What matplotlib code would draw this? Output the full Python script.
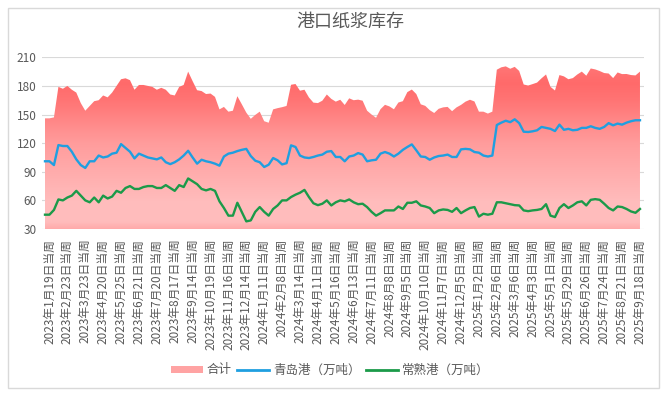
import numpy as np
import matplotlib
matplotlib.use("Agg")
import matplotlib.pyplot as plt
from matplotlib.patches import Polygon, Rectangle, Patch
from matplotlib.lines import Line2D
from matplotlib.colors import LinearSegmentedColormap

plt.rcParams['font.family'] = ['Noto Sans CJK SC', 'DejaVu Sans']

# weekly port pulp stocks (10k t)
qingdao = [101, 101, 97, 118, 117, 117, 111, 103, 97, 94,
           101, 101, 107, 105, 106, 109, 110, 119, 115, 111,
           104, 109, 107, 105, 104, 103, 105, 100, 98, 100,
           103, 107, 112, 105, 98.5, 102.6, 101, 100, 98.5, 96.4,
           106, 109, 110, 111.7, 113, 114, 106.5, 101.6, 100, 95,
           97.4, 104.4, 102, 97.7, 99, 117.7, 116, 107, 105, 104.4,
           105.5, 107, 108, 111, 111.7, 105.5, 105.5, 101, 106, 107,
           109.6, 108, 101, 102, 102.6, 109, 110.7, 109, 106, 109,
           113, 116, 118.7, 112.5, 106, 105.5, 102.6, 105, 106.5, 107,
           108, 105.5, 105.5, 113.5, 114, 113.5, 110.7, 110, 107, 106,
           107, 139, 141.5, 143.5, 142, 145, 141, 132, 131.7, 132.4,
           133.5, 137, 136, 135, 132.7, 139.4, 134, 135, 133.5, 134,
           136, 136, 137.7, 136, 135, 137, 141, 138.7, 140.5, 139.4,
           141.5, 143, 144, 144]
changshu = [45, 45, 50, 61, 60, 63, 65, 70, 65, 60,
            58, 63, 58, 65, 62, 64, 70, 68, 73, 75,
            72, 72, 74, 75, 75, 73, 73, 76, 73, 70,
            76, 74, 83, 80, 77, 72, 70.5, 72, 70, 59,
            52, 44, 44, 57.5, 47.7, 38, 39, 48, 53, 48,
            44, 51, 54.7, 60, 60, 63.5, 66, 68, 71, 63.5,
            57, 55, 56.5, 60, 54.7, 58, 60, 59, 61, 58,
            56, 56.5, 53, 48, 44, 46.6, 49.5, 49.5, 49.5, 53.6,
            51, 57.5, 57.5, 59, 54.7, 53.6, 52, 46.6, 49.5, 50.5,
            50, 48, 52, 46.6, 49.5, 52, 53, 43, 46, 45,
            46, 58, 58, 57, 56, 55, 54.7, 49.5, 48.7, 49.5,
            50, 51, 56, 44, 42.5, 52, 56, 52, 54.7, 58,
            59, 54.7, 60.6, 61.3, 60.6, 56.5, 52, 49.5, 53.6, 53,
            51, 48.4, 47, 51]
# every 4th week label shown on the category axis
week_labels = ["2023年1月19日当周", "2023年2月23日当周", "2023年3月23日当周", "2023年4月20日当周",
               "2023年5月25日当周", "2023年6月21日当周", "2023年7月20日当周", "2023年8月17日当周",
               "2023年9月14日当周", "2023年10月19日当周", "2023年11月16日当周", "2023年12月14日当周",
               "2024年1月11日当周", "2024年2月8日当周", "2024年3月14日当周", "2024年4月11日当周",
               "2024年5月16日当周", "2024年6月13日当周", "2024年7月11日当周", "2024年8月8日当周",
               "2024年9月5日当周", "2024年10月10日当周", "2024年11月7日当周", "2024年12月5日当周",
               "2025年1月2日当周", "2025年2月6日当周", "2025年3月6日当周", "2025年4月3日当周",
               "2025年5月1日当周", "2025年5月29日当周", "2025年6月26日当周", "2025年7月24日当周",
               "2025年8月21日当周", "2025年9月18日当周"]

qingdao = np.array(qingdao)
changshu = np.array(changshu)
total = qingdao + changshu  # 合计 = 青岛 + 常熟
x = np.arange(len(qingdao))

TXT = "#595959"
GRID = "#d9d9d9"

fig = plt.figure(figsize=(6.64, 3.99), dpi=100)
ax = fig.add_axes([42 / 664, 1 - 229 / 399, 602 / 664, 171.7 / 399])

ax.set_xlim(-0.67, len(x) - 1 + 0.9)
ax.set_ylim(30, 210)
ax.set_yticks(np.arange(30, 211, 30))
ax.grid(axis="y", color=GRID, lw=0.8, zorder=0)
ax.set_axisbelow(True)
for s in ax.spines.values():
    s.set_visible(False)

# gradient-filled area for the total
verts = np.column_stack([np.r_[x, x[::-1]], np.r_[total, np.full(len(x), 30)]])
clip = Polygon(verts, closed=True, facecolor="none", edgecolor="none")
ax.add_patch(clip)
cmap = LinearSegmentedColormap.from_list("pulp", [
    (0.0, "#ffaaaa"), (0.04, "#ffbcbc"), (0.15, "#ffbdbd"), (0.5, "#ff9c9c"),
    (0.75, "#ff7474"), (0.85, "#ff6a6a"), (1.0, "#ff7c7c")])
grad = np.linspace(0, 1, 256).reshape(-1, 1)
im = ax.imshow(grad, extent=[x[0], x[-1], 30, 210], origin="lower", aspect="auto",
               cmap=cmap, zorder=1, interpolation="bilinear")
im.set_clip_path(clip)
ax.set_xlim(-0.67, len(x) - 1 + 0.9)
ax.set_ylim(30, 210)

ax.plot(x, qingdao, color="#1f9fe0", lw=1.7, zorder=3, solid_joinstyle="round")
ax.plot(x, changshu, color="#1b9a49", lw=1.7, zorder=3, solid_joinstyle="round")

tick_pos = np.arange(1, len(x), 4)
ax.set_xticks(tick_pos)
ax.set_xticklabels(week_labels, rotation=90, fontsize=8.5, color=TXT)
ax.tick_params(axis="x", length=0, pad=7)
ax.tick_params(axis="y", length=0, pad=4, labelsize=8.5, labelcolor=TXT)

fig.text(350 / 664, 1 - 22 / 399, "港口纸浆库存", ha="center", va="center",
         fontsize=13, color=TXT)

handles = [Patch(facecolor="#ffa3a3", edgecolor="none"),
           Line2D([], [], color="#1f9fe0", lw=2),
           Line2D([], [], color="#1b9a49", lw=2)]
fig.legend(handles, ["合计", "青岛港（万吨）", "常熟港（万吨）"], loc="center",
           bbox_to_anchor=(330 / 664, 1 - 370 / 399), ncol=3, frameon=False,
           fontsize=9, labelcolor=TXT, handlelength=2.6, handleheight=0.5,
           handletextpad=0.3, columnspacing=0.4)

fig.add_artist(Rectangle((8 / 664, 1 - 388 / 399), 651 / 664, 380 / 399,
                         transform=fig.transFigure, fill=False, edgecolor=GRID, lw=1))

fig.savefig("out.png", dpi=100)
